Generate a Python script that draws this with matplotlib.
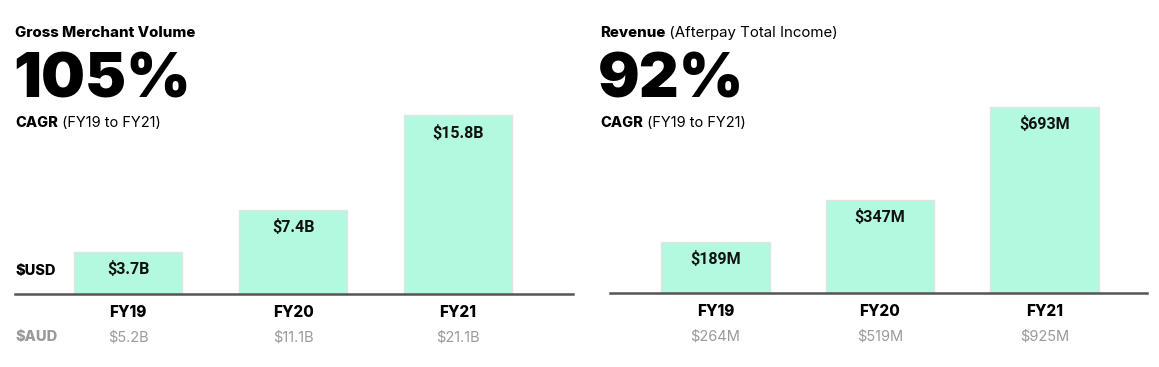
import matplotlib
matplotlib.use("Agg")
import matplotlib.pyplot as plt

W, H = 1159, 367

categories = ["FY19", "FY20", "FY21"]
gmv_usd = [3.7, 7.4, 15.8]
gmv_usd_labels = ["$3.7B", "$7.4B", "$15.8B"]
gmv_aud_labels = ["$5.2B", "$11.1B", "$21.1B"]
rev_usd = [189, 347, 693]
rev_usd_labels = ["$189M", "$347M", "$693M"]
rev_aud_labels = ["$264M", "$519M", "$925M"]

BAR = "#b2f9e0"
EDGE = "#e0e4e2"
LINE = "#555555"
GREY = "#9a9a9a"
TITLE_FONT = ["Inter", "DejaVu Sans"]
LABEL_FONT = ["Roboto", "DejaVu Sans"]

fig = plt.figure(figsize=(W / 100, H / 100), dpi=100)


def P(x, y):
    return (x / W, 1 - y / H)


def panel(rect, values, labels, aud, xlim, ylim):
    ax = fig.add_axes(rect)
    x = range(len(values))
    ax.bar(x, values, width=0.66, color=BAR, edgecolor=EDGE, linewidth=1.0, zorder=2)
    ax.set_xlim(*xlim)
    ax.set_ylim(0, ylim)
    ax.axhline(0, color=LINE, lw=1.8, zorder=3, clip_on=False)
    for s in ax.spines.values():
        s.set_visible(False)
    ax.set_xticks([])
    ax.set_yticks([])
    ax.patch.set_alpha(0)
    for i, v in enumerate(values):
        ax.annotate(labels[i], (i, v), xytext=(0, -12.3), textcoords="offset points",
                    ha="center", va="center", fontsize=11.5, fontweight="bold",
                    family=LABEL_FONT, color="#111111", zorder=4)
        ax.annotate(categories[i], (i, 0), xytext=(0, -13), textcoords="offset points",
                    ha="center", va="center", fontsize=11, fontweight="heavy",
                    family=TITLE_FONT, color="#000000", annotation_clip=False)
        ax.annotate(aud[i], (i, 0), xytext=(0, -31), textcoords="offset points",
                    ha="center", va="center", fontsize=10.5,
                    family=TITLE_FONT, color=GREY, annotation_clip=False)
    return ax


axL = panel([15 / W, 1 - 294 / H, 558 / W, 194 / H], gmv_usd, gmv_usd_labels,
            gmv_aud_labels, (-0.685, 2.697), 194 / 11.3)
axR = panel([610 / W, 1 - 293 / H, 537 / W, 193 / H], rev_usd, rev_usd_labels,
            rev_aud_labels, (-0.641, 2.623), 193 / 0.268)

# Titles
fig.text(*P(15, 37), "Gross Merchant Volume", fontsize=10.8, fontweight="heavy",
         family=TITLE_FONT, va="baseline", ha="left")
t = fig.text(*P(600, 37), "Revenue", fontsize=10.8, fontweight="heavy",
             family=TITLE_FONT, va="baseline", ha="left")
plt.annotate(" (Afterpay Total Income)", xy=(1, 0), xycoords=t, va="bottom", ha="left",
             fontsize=10.8, family=TITLE_FONT)

for xx, big in [(13, "105%"), (598, "92%")]:
    fig.text(*P(xx, 98), big, fontsize=44.5, fontweight="black", family=TITLE_FONT,
             va="baseline", ha="left")

for xx in (15, 600):
    c = fig.text(*P(xx, 127), "CAGR", fontsize=10.5, fontweight="heavy",
                 family=TITLE_FONT, va="baseline", ha="left")
    plt.annotate(" (FY19 to FY21)", xy=(1, 0), xycoords=c, va="bottom", ha="left",
                 fontsize=10.5, family=TITLE_FONT)

fig.text(*P(15, 271), "$USD", fontsize=10.5, fontweight="heavy", family=TITLE_FONT,
         va="center", ha="left")
fig.text(*P(15, 337), "$AUD", fontsize=10.5, fontweight="heavy", family=TITLE_FONT,
         va="center", ha="left", color=GREY)

fig.savefig("out.png", dpi=100, facecolor="white")
